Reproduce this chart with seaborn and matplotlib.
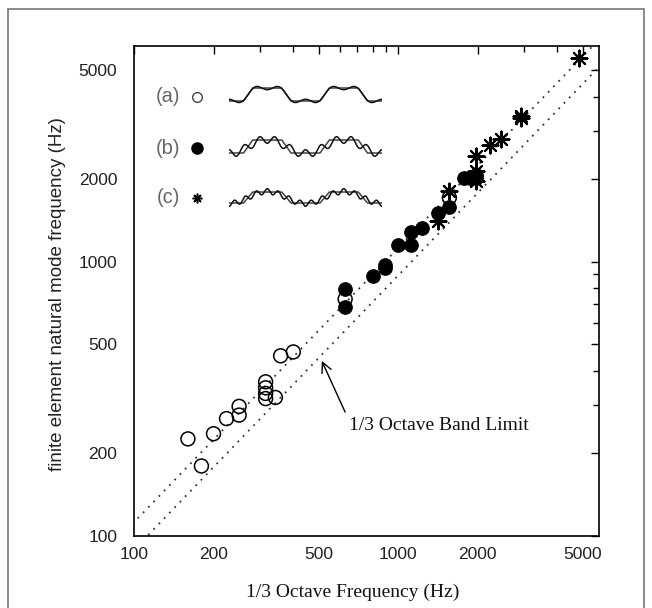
import numpy as np
import pandas as pd
import matplotlib
matplotlib.use("Agg")
import matplotlib.pyplot as plt
import seaborn as sns
from matplotlib.ticker import FixedLocator, FixedFormatter, NullFormatter
from matplotlib.lines import Line2D
from matplotlib.patches import Rectangle

# ---------------- data ----------------
open_x = [160, 180, 200, 224, 250, 250, 315, 315, 315, 315, 343, 359, 401, 630, 1563]
open_y = [226, 180, 236, 268, 297, 276, 365, 347, 331, 317, 320, 454, 469, 731, 1713]

filled_x = [630, 630, 800, 893, 893, 1000, 1120, 1120, 1236, 1412, 1563, 1782, 1875, 1975, 1975]
filled_y = [798, 685, 885, 977, 946, 1153, 1153, 1288, 1333, 1510, 1585, 2027, 2027, 2027, 2080]

star_x = [1412, 1563, 1975, 1975, 1975, 2228, 2455, 2924, 2924, 4842]
star_y = [1409, 1811, 2427, 2142, 1972, 2663, 2793, 3398, 3330, 5543]

band_x = np.array([90.0, 7000.0])
band_factor = 2 ** (1 / 6)  # 1/3 octave band edges

major_ticks = [100, 200, 500, 1000, 2000, 5000]
major_labels = ["100", "200", "500", "1000", "2000", "5000"]
minor_ticks = [300, 400, 600, 700, 800, 900, 3000, 4000]

legend_labels = ["(a)", "(b)", "(c)"]

# ---------------- figure ----------------
sns.set_theme(style="white")
plt.rcParams["font.family"] = ["Liberation Sans", "DejaVu Sans"]

W, H = 652, 608
fig = plt.figure(figsize=(W / 100, H / 100), dpi=100)
fig.patch.set_facecolor("white")


def fx(px):
    return px / W


def fy(py):
    return 1 - py / H


ax = fig.add_axes([fx(134), fy(536), (599 - 134) / W, (536 - 46) / H])
ax.set_facecolor("white")
ax.set_xscale("log")
ax.set_yscale("log")

# band limit lines
bands = pd.DataFrame({"x": np.concatenate([band_x, band_x]),
                      "y": np.concatenate([band_x * band_factor, band_x / band_factor]),
                      "edge": ["upper", "upper", "lower", "lower"]})
for edge, grp in bands.groupby("edge"):
    sns.lineplot(data=grp, x="x", y="y", ax=ax, color="#333333", lw=1.3,
                 linestyle=(0, (1, 3.2)), estimator=None, sort=False, legend=False)

# data series
sns.scatterplot(x=open_x, y=open_y, ax=ax, marker="o", s=100, fc="none",
                ec="black", linewidth=1.1, zorder=3)
sns.scatterplot(x=filled_x, y=filled_y, ax=ax, marker="o", s=95, color="black",
                ec="black", linewidth=0.8, zorder=4)
sns.scatterplot(x=star_x, y=star_y, ax=ax, marker=(8, 2, 0), s=130, color="black",
                linewidth=1.5, zorder=5)

ax.set_xlim(100, 5760)
ax.set_ylim(100, 6120)

for axis in (ax.xaxis, ax.yaxis):
    axis.set_major_locator(FixedLocator(major_ticks))
    axis.set_major_formatter(FixedFormatter(major_labels))
    axis.set_minor_locator(FixedLocator(minor_ticks))
    axis.set_minor_formatter(NullFormatter())

ax.tick_params(which="both", direction="in", top=True, right=True, color="black",
               width=1.0, labelsize=12.5, labelcolor="#222222")
ax.tick_params(which="major", length=6)
ax.tick_params(which="minor", length=4)
ax.tick_params(axis="x", pad=8)
ax.tick_params(axis="y", pad=12)
for sp in ax.spines.values():
    sp.set_color("black")
    sp.set_linewidth(1.2)

ax.set_xlabel("1/3 Octave Frequency (Hz)", family=["Liberation Serif", "DejaVu Serif"],
              fontsize=14, color="#111111")
ax.xaxis.set_label_coords(0.47, -0.098)
ax.set_ylabel("finite element natural mode frequency (Hz)", fontsize=13.5, color="#222222")
ax.yaxis.set_label_coords(-0.146, 0.494)

# annotation
ax.annotate("", xy=(514, 435), xytext=(630, 283),
            arrowprops=dict(arrowstyle="->,head_length=0.6,head_width=0.3",
                            color="black", lw=1.0, shrinkA=0, shrinkB=0))
ax.text(652, 253, "1/3 Octave Band Limit", family=["Liberation Serif", "DejaVu Serif"],
        fontsize=14, ha="left", va="center", color="#111111")

# inset legend labels and markers
label_y = [97, 148, 198]
for lab, py in zip(legend_labels, label_y):
    fig.text(fx(168), fy(py), lab, ha="center", va="center", fontsize=14.5, color="#666666")
fig.add_artist(Line2D([fx(197)], [fy(97)], marker="o", ms=7, mfc="none", mec="#444444",
                      mew=1.0, transform=fig.transFigure))
fig.add_artist(Line2D([fx(197)], [fy(148)], marker="o", ms=8, mfc="black", mec="black",
                      transform=fig.transFigure))
fig.add_artist(Line2D([fx(197)], [fy(198)], marker=(8, 2, 0), ms=7, mec="black",
                      mew=1.1, transform=fig.transFigure))

# mode-shape sketches
t = np.linspace(0, 2, 800)
d = np.abs(((t - 0.5 + 0.5) % 1) - 0.5)
trap = np.clip((0.31 - d) / 0.12, 0, 1)
theta = 2 * np.pi * (t - 0.5)
curves = [0.5 + 0.62 * np.cos(theta) - 0.25 * np.cos(3 * theta),
          0.5 + 0.55 * np.cos(theta) - 0.3 * np.cos(5 * theta),
          0.5 + 0.55 * np.cos(theta) + 0.25 * np.cos(7 * theta)]
levels = [(88, 101), (140, 153), (192, 203)]
for curve, (ptop, pbot) in zip(curves, levels):
    h = pbot - ptop
    wax = fig.add_axes([fx(229), fy(pbot + h / 2), (382 - 229) / W, 2 * h / H])
    wax.plot(t, trap, color="#444444", lw=1.1)
    wax.plot(t, curve, color="#111111", lw=1.1)
    wax.set_xlim(0, 2)
    wax.set_ylim(-0.5, 1.5)
    wax.axis("off")
    wax.patch.set_alpha(0)

# page border
fig.add_artist(Rectangle((fx(7.5), fy(640)), (644 - 7.5) / W, (640 - 8.5) / H,
                         transform=fig.transFigure, fill=False, ec="#777777", lw=1.2,
                         clip_on=False))

fig.savefig("out.png", dpi=100, facecolor="white")
